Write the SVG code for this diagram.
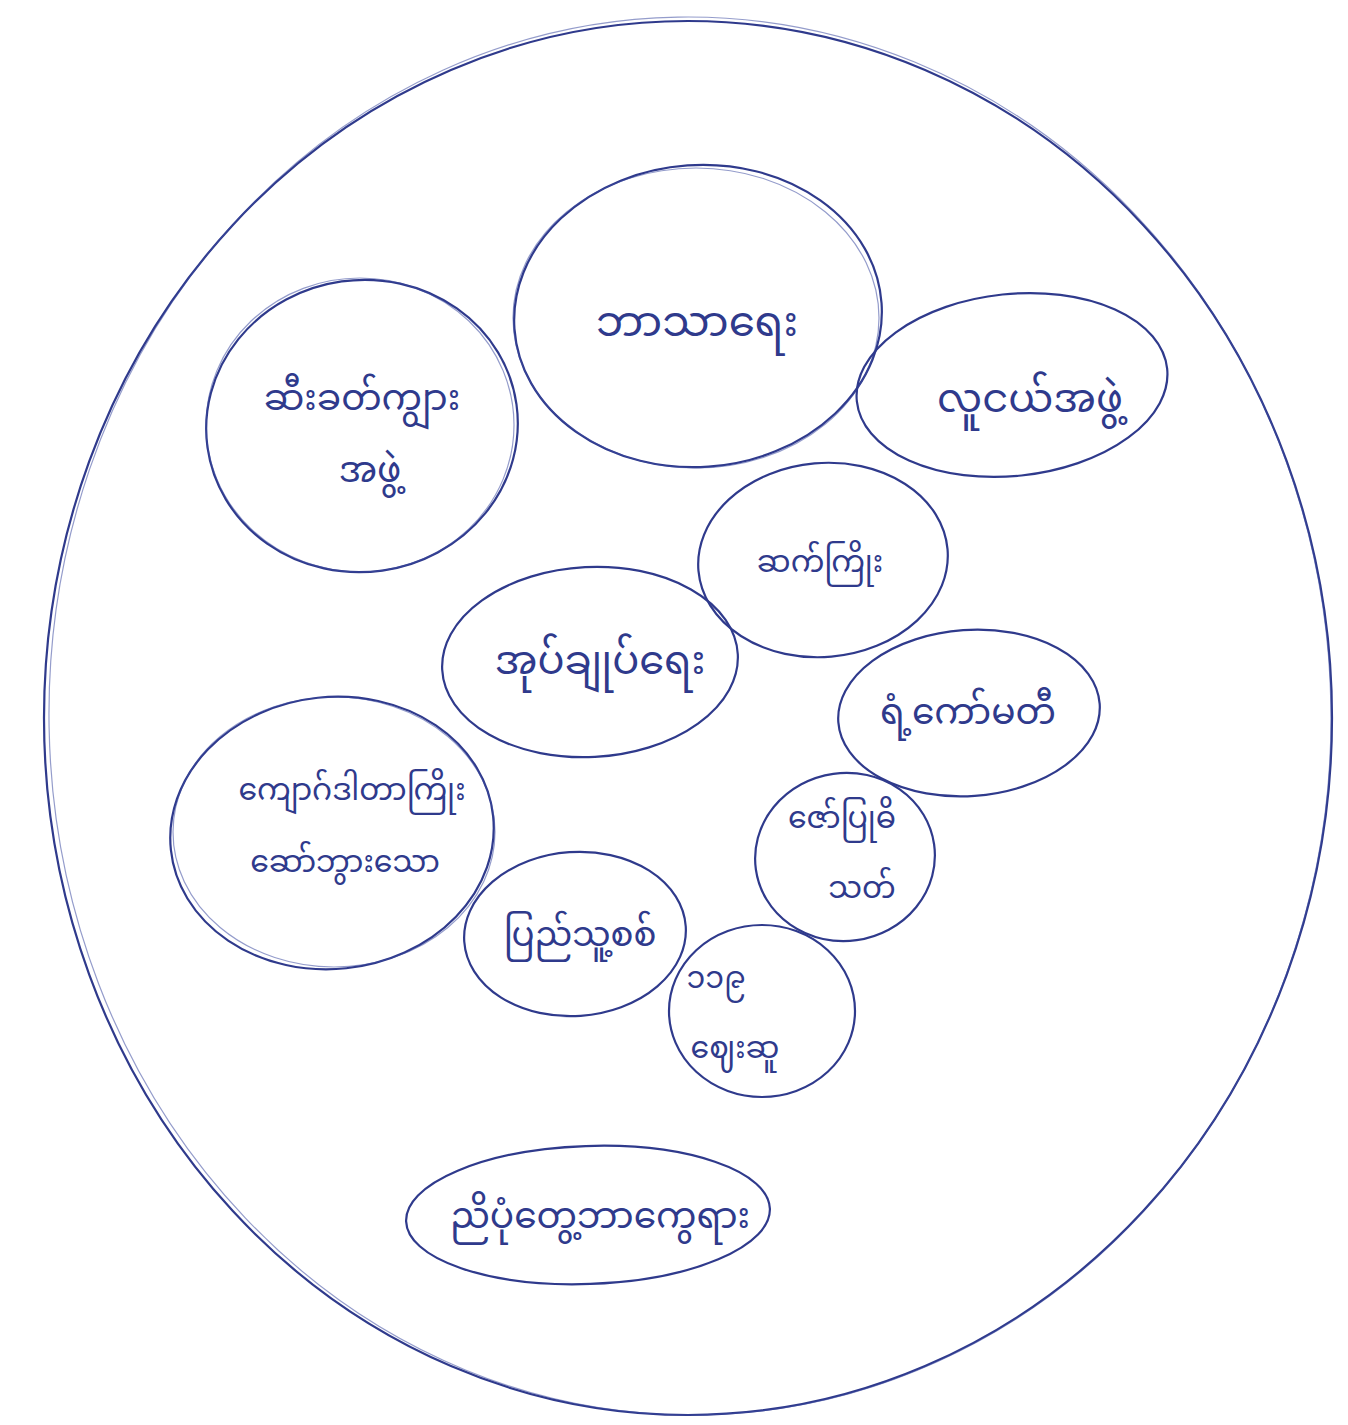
<svg xmlns="http://www.w3.org/2000/svg" width="1348" height="1425" viewBox="0 0 1348 1425">
<style>
.pen{fill:none;stroke:#2f3a8c;stroke-width:2.2;stroke-linecap:round}
.pen2{fill:none;stroke:#3d4aa0;stroke-width:1.2;opacity:0.55}
.t{font-family:"Noto Sans Myanmar","Padauk","Myanmar Text","Noto Sans","Liberation Sans",sans-serif;fill:#2f3a8c;text-anchor:middle}
</style>
<rect width="1348" height="1425" fill="#ffffff"/>
<g id="outer">
<ellipse class="pen" cx="688" cy="718" rx="644" ry="697"/>
<ellipse class="pen2" cx="690" cy="716" rx="641" ry="699" transform="rotate(-1 690 716)"/>
</g>
<g id="connectors"></g>
<g id="n1">
<ellipse class="pen" cx="362" cy="426" rx="156" ry="146" transform="rotate(-8 362 426)"/>
<ellipse class="pen2" cx="360" cy="425" rx="154" ry="147"/>
<text class="t" font-size="36" x="362" y="410">ဆီးခတ်ကျွား</text>
<text class="t" font-size="36" x="370" y="482">အဖွဲ့</text>
</g>
<g id="n2">
<ellipse class="pen" cx="698" cy="316" rx="184" ry="151" transform="rotate(-4 698 316)"/>
<ellipse class="pen2" cx="696" cy="318" rx="183" ry="150"/>
<text class="t" font-size="42" x="697" y="336">ဘာသာရေး</text>
</g>
<g id="n3">
<ellipse class="pen" cx="1012" cy="385" rx="156" ry="91" transform="rotate(-6 1012 385)"/>
<text class="t" font-size="40" x="1030" y="412">လူငယ်အဖွဲ့</text>
</g>
<g id="n4">
<ellipse class="pen" cx="823" cy="560" rx="125" ry="97" transform="rotate(-5 823 560)"/>
<text class="t" font-size="30" x="820" y="572">ဆက်ကြိုး</text>
</g>
<g id="n5">
<ellipse class="pen" cx="590" cy="662" rx="148" ry="95" transform="rotate(-3 590 662)"/>
<text class="t" font-size="40" x="600" y="674">အုပ်ချုပ်ရေး</text>
</g>
<g id="n6">
<ellipse class="pen" cx="969" cy="713" rx="131" ry="83" transform="rotate(-4 969 713)"/>
<text class="t" font-size="36" x="968" y="724">ရံ့ကော်မတီ</text>
</g>
<g id="n7">
<ellipse class="pen" cx="332" cy="833" rx="162" ry="136" transform="rotate(-6 332 833)"/>
<ellipse class="pen2" cx="334" cy="832" rx="161" ry="135"/>
<text class="t" font-size="30" x="352" y="800">ကျောဂ်ဒါတာကြိုး</text>
<text class="t" font-size="30" x="345" y="872">ဆော်ဘွားသော</text>
</g>
<g id="n8">
<ellipse class="pen" cx="845" cy="857" rx="90" ry="84" transform="rotate(-8 845 857)"/>
<text class="t" font-size="30" x="842" y="828">ဇော်ပြုဓိ</text>
<text class="t" font-size="30" x="862" y="898">သတ်</text>
</g>
<g id="n9">
<ellipse class="pen" cx="762" cy="1011" rx="93" ry="86"/>
<text class="t" font-size="30" x="716" y="988">၁၁၉</text>
<text class="t" font-size="30" x="735" y="1058">ဈေးဆူ</text>
</g>
<g id="n10">
<ellipse class="pen" cx="575" cy="934" rx="111" ry="82" transform="rotate(-4 575 934)"/>
<text class="t" font-size="34" x="580" y="946">ပြည်သူ့စစ်</text>
</g>
<g id="n11">
<ellipse class="pen" cx="588" cy="1215" rx="182" ry="69" transform="rotate(-2 588 1215)"/>
<text class="t" font-size="36" x="600" y="1228">ညိပုံတွေ့ဘာကွေရား</text>
</g>
</svg>
